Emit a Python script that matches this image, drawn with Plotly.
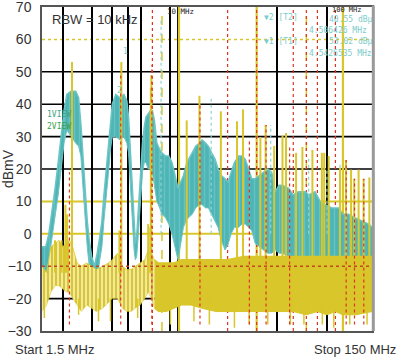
import plotly.graph_objects as go

# ---------------- data ----------------
# Cyan (peak detector) trace: envelope of the noisy trace
cyan_freq = [1.50, 1.58, 1.65, 1.72, 1.80, 1.88, 1.96, 2.04, 2.12, 2.25, 2.40, 2.50, 2.58, 2.66,
             2.74, 2.82, 2.90, 3.00, 3.12, 3.24, 3.36, 3.46, 3.56, 3.66, 3.78, 3.90, 4.00, 4.20,
             4.45, 4.70, 4.90, 5.02, 5.12, 5.22, 5.32, 5.42, 5.52, 5.62, 5.72, 5.82, 5.95, 6.10,
             6.25, 6.40, 6.60, 6.80, 7.00, 7.20, 7.45, 7.75, 8.0, 8.4, 8.8, 9.2, 9.6, 10.0, 10.4,
             10.8, 11.2, 11.6, 12.2, 12.8, 13.5, 14.0, 14.7, 15.3, 16.0, 16.8, 17.5, 18.3, 19.3,
             20.2, 21.0, 22.0, 23.3, 24.5, 25.6, 26.8, 28.0, 29.4, 31.0, 33.0, 35.0, 37.0, 38.9,
             41.0, 43.0, 46.8, 50.0, 53.7, 59.0, 62.0, 67.8, 72.7, 78.0, 85.6, 94.0, 100.0, 108.0,
             118.0, 130.0, 143.0, 150.0]
cyan_upper = [-4, -4, 0, 6, 14, 22, 31, 38, 43, 44, 44, 42, 34, 24,
              13, 4, -2, -7, -10, -6, -1, 4, 12, 19, 27, 34, 40, 43,
              42, 43, 41, 36, 28, 18, 10, 3, -3, -1, 5, 12, 20, 28,
              33, 36, 37, 38, 38, 35, 28, 26, 25, 24, 24, 22, 18, 14, 16,
              18, 21, 23, 25, 27, 28, 29, 28, 27, 25, 23, 20, 18, 17,
              16, 19, 22, 24, 24, 23, 20, 17, 17, 18, 19, 20, 19, 13,
              15, 15, 14, 12, 13, 13, 12, 13, 10, 9, 8, 8, 6, 6,
              5, 4, 3, 2]
cyan_lower = [-12, -13, -8, -2, 5, 12, 20, 28, 32, 30, 28, 27, 24, 14,
              4, -4, -10, -15, -16, -14, -8, -4, 4, 10, 18, 26, 30, 30,
              29, 30, 28, 25, 18, 10, 1, -5, -8, -7, -2, 4, 11, 19,
              22, 22, 20, 20, 19, 15, 10, 8, 6, 5, 3, 0, -4, -8, -3,
              2, 4, 5, 6, 8, 9, 9, 8, 8, 6, 4, 2, -2, -5,
              -3, 0, 2, 2, 3, 3, 2, 1, -3, -4, -5, -6, -6, -5,
              -6, -6, -7, -8, -7, -7, -7, -7, -8, -8, -8, -8, -9, -9,
              -9, -9, -9, -9]

# Yellow (average detector) trace: envelope of the noise band
yel_freq = [1.5, 1.6, 1.7, 1.8, 1.9, 2.0, 2.1, 2.2, 2.3, 2.45, 2.6, 2.8, 3.0, 3.2, 3.5, 3.8,
            4.0, 4.3, 4.6, 4.9, 5.2, 5.5, 5.9, 6.3, 6.6, 6.9, 7.2, 7.6, 8.5, 9.5, 10.5, 12.0,
            14.0, 17.0, 20.0, 25.0, 30.0, 40.0, 50.0, 60.0, 70.0, 80.0, 90.0, 100.0, 120.0, 150.0]
yel_upper = [-10, -12, -4, -3, -2, -4, -3, -2, -4, -9, -10, -9, -10, -11, -10, -9,
             -8, -6, -10, -11, -11, -10, -9, -8, -5, -6, -8, -9, -9, -9, -8, -8,
             -8, -8, -8, -7, -7, -7, -7, -7, -7, -7, -7, -7, -7, -7]
yel_lower = [-24, -22, -18, -16, -16, -17, -18, -18, -20, -22, -24, -22, -23, -24, -23, -21,
             -20, -20, -23, -24, -24, -23, -22, -20, -18, -20, -23, -24, -24, -23, -22, -22,
             -23, -24, -24, -24, -24, -24, -24, -25, -24, -25, -24, -25, -25, -24]
yel_sparse_end = 7.2  # below this frequency the average trace is sparse

# Short yellow strokes above the noise band (frequency MHz, top dBmV)
small_freq = [1.8, 1.97, 2.08, 2.13, 4.42, 6.6, 6.8]
small_top = [-2, -2, 9, 6, 1, 3, 2]

# Yellow strokes below the noise band (frequency MHz, bottom dBmV)
dip_freq = [1.55, 2.5, 3.3, 3.9, 5.7, 9.0, 12.5, 15.5, 22.0, 27.0, 35.0, 48.0, 58.0, 75.0, 88.0, 110.0, 140.0]
dip_bottom = [-26, -25, -27, -27, -26, -28, -27, -28, -29, -28, -28, -28, -28, -28, -29, -28, -28]

# Tall yellow spikes (frequency MHz, peak dBmV)
spike_freq = [2.28, 4.54, 6.85, 6.9, 11.3, 13.5, 18.2, 22.8, 24.8, 31.6, 34.0, 38.3, 43.0, 45.2,
              52.0, 56.8, 65.3, 74.5, 77.0, 82.0, 96.0, 104.3, 112.0, 117.0, 124.4, 133.4, 144.6]
spike_top = [53, 53, 45, 49, 35, 42.6, 37.8, 34.7, 38.4, 29.9, 33.6, 27.1, 30.3, 31.1,
             25, 26.8, 25.9, 25, 25, 24, 20.4, 22.8, 19.8, 17, 19.8, 17, 17.4]

# Red dotted marker strokes (frequency MHz, top dBmV)
red_freq = [2.2, 4.5, 6.95, 13.6, 27.1, 34.2, 47.5, 104.6, 117.5, 133.8]
red_top = [19, 50, 52, 40, 29.2, 33.6, 27, 22.8, 17, 17]

# Cyan dotted strokes (frequency MHz, top dBmV)
cdot_freq = [7.9, 15.9, 36.5, 62.0, 80.0, 96.0]
cdot_top = [66, 42, 33.6, 24, 20, 22]

# Full-height marker lines
red_full = [7, 20, 50, 70, 90]
yel_solid_full = [10.15, 30, 100]
yel_dash_full = [8, 60]
red_on_yellow = [30, 60]

# Axis / grid
y_ticks = [-30, -20, -10, 0, 10, 20, 30, 40, 50, 60, 70]
x_grid = [2, 3, 4, 5, 6, 9, 10, 40, 80, 100]
black_levels = [50, 40, 30, 20, -20]
yellow_solid_levels = [10, 0]
yellow_dot_levels = [60]
red_dot_levels = [-10]

CYAN = "#4db5b5"
YEL = "#d8c62a"
RED = "#e0321e"

fig = go.Figure()


def vlines(freqs, bottoms, tops):
    xs, ys = [], []
    for f, b, t in zip(freqs, bottoms, tops):
        xs += [f, f, None]
        ys += [b, t, None]
    return xs, ys


def add_v(freqs, bottoms, tops, color, width, dash="solid"):
    xs, ys = vlines(freqs, bottoms, tops)
    fig.add_trace(go.Scatter(x=xs, y=ys, mode="lines", line=dict(color=color, width=width, dash=dash),
                             hoverinfo="skip"))


def add_band(f, lo, hi, color, edge, edge_w=1.0, pattern=None):
    fig.add_trace(go.Scatter(x=f, y=lo, mode="lines", line=dict(color=edge, width=edge_w), hoverinfo="skip"))
    kw = dict(fill="tonexty", fillcolor=color)
    if pattern is not None:
        kw["fillpattern"] = pattern
    fig.add_trace(go.Scatter(x=f, y=hi, mode="lines", line=dict(color=edge, width=edge_w * 1.5),
                             hoverinfo="skip", **kw))


# full-height marker lines (under the traces)
add_v(yel_solid_full, [-30] * 3, [70] * 3, YEL, 2.2)
add_v(yel_dash_full, [-30] * 2, [70] * 2, YEL, 1.5, "dash")
add_v(red_full + red_on_yellow, [-30] * 7, [70] * 7, RED, 1.2, "dot")

# horizontal level lines
for lv in black_levels:
    fig.add_shape(type="line", xref="paper", x0=0, x1=1, y0=lv, y1=lv, line=dict(color="black", width=1.6), layer="below")
for lv in yellow_solid_levels:
    fig.add_shape(type="line", xref="paper", x0=0, x1=1, y0=lv, y1=lv, line=dict(color=YEL, width=2), layer="below")
for lv in yellow_dot_levels:
    fig.add_shape(type="line", xref="paper", x0=0, x1=1, y0=lv, y1=lv, line=dict(color=YEL, width=1.5, dash="dot"), layer="below")
for lv in red_dot_levels:
    fig.add_shape(type="line", xref="paper", x0=0, x1=1, y0=lv, y1=lv, line=dict(color="#c04a1e", width=1.5, dash="dot"), layer="above")

# cyan band, with light vertical streak texture
add_band(cyan_freq, cyan_lower, cyan_upper, CYAN, "#6cc4c4",
         pattern=dict(shape="|", bgcolor=CYAN, fgcolor="#86cdcd", size=5, solidity=0.25))

# cyan dotted strokes
add_v(cdot_freq, [0] * len(cdot_freq), cdot_top, "#8fd3d3", 1.2, "dot")

# yellow band: sparse part (streaky) and dense part
n_sparse = sum(1 for f in yel_freq if f <= yel_sparse_end)
add_band(yel_freq[:n_sparse], yel_lower[:n_sparse], yel_upper[:n_sparse], YEL, YEL, edge_w=0.5,
         pattern=dict(shape="|", bgcolor="#ffffff", fgcolor=YEL, fgopacity=1, size=4, solidity=0.7))
add_band(yel_freq[n_sparse - 1:], yel_lower[n_sparse - 1:], yel_upper[n_sparse - 1:], YEL, YEL)

# yellow strokes
add_v(small_freq, [-12] * len(small_freq), small_top, YEL, 2)
add_v(dip_freq, [-20] * len(dip_freq), dip_bottom, YEL, 1.5)
add_v(spike_freq, [-12] * len(spike_freq), spike_top, YEL, 2)

# red dotted strokes
add_v(red_freq, [-28] * len(red_freq), red_top, RED, 1.2, "dot")

TOP, BOT = 5, 331
fig.update_layout(
    width=399, height=359,
    margin=dict(l=42, r=27, t=TOP, b=359 - BOT),
    paper_bgcolor="white", plot_bgcolor="white",
    showlegend=False,
    font=dict(family="Liberation Sans, Arial, sans-serif", color="#333333"),
)
fig.update_xaxes(type="log", range=[0.17609, 2.17609], tickvals=x_grid, showticklabels=False,
                 showgrid=True, gridcolor="black", gridwidth=1.6, zeroline=False,
                 showline=True, linecolor="#555555", linewidth=1.5, mirror=True, ticks="")
fig.update_yaxes(range=[-30, 70], tickvals=y_ticks, showgrid=False, zeroline=False,
                 showline=True, linecolor="#555555", linewidth=1.5, mirror=True,
                 ticks="", ticklabelstandoff=6, ticklabeloverflow="allow",
                 tickfont=dict(size=14, color="#333333"),
                 title=dict(text="dBmV", font=dict(size=14, color="#333333"), standoff=0),
                 automargin=False)


def px(x):
    return (x - 41.7) / 330.0


def py(y):
    return (BOT - y) / float(BOT - TOP)


ann = []
ann.append(dict(text="RBW = 10 kHz", x=px(50), y=py(18), xanchor="left", font=dict(size=13)))
ann.append(dict(text="Start 1.5 MHz", x=px(13), y=py(350), xanchor="left", font=dict(size=13)))
ann.append(dict(text="Stop 150 MHz", x=px(398), y=py(350), xanchor="right", font=dict(size=13)))
mono = "DejaVu Sans Mono, monospace"
lc = "#7ccccc"
for t, x, y in [("\u25bc2 [T2]", 262, 16), ("40.55 dB\u00b5", 327, 18), ("4.506426 MHz", 307, 29),
                ("\u25bc1 [T1]", 262, 40), ("53.02 dB\u00b5", 327, 40), ("4.5426535 MHz", 307, 52)]:
    ann.append(dict(text=t, x=px(x), y=py(y), xanchor="left", font=dict(size=8, color=lc, family=mono)))
ann.append(dict(text="1VIEW", x=px(45), y=py(113), xanchor="left", font=dict(size=8, color="#3f9f7f", family=mono)))
ann.append(dict(text="2VIEW", x=px(45), y=py(125), xanchor="left", font=dict(size=8, color="#3c9e4a", family=mono)))
ann.append(dict(text="10 MHz", x=px(165), y=py(10), xanchor="left", font=dict(size=7.5, color="#222222", family=mono)))
ann.append(dict(text="100 MHz", x=px(330), y=py(8.5), xanchor="left", font=dict(size=7, color="#222222", family=mono)))
ann.append(dict(text="1", x=px(121), y=py(50), font=dict(size=8, color=lc, family=mono)))
ann.append(dict(text="2", x=px(115), y=py(89), font=dict(size=8, color=lc, family=mono)))
for a in ann:
    a.setdefault("xref", "paper")
    a.setdefault("yref", "paper")
    a.setdefault("showarrow", False)
    a.setdefault("yanchor", "middle")
fig.update_layout(annotations=ann)

fig.add_shape(type="line", xref="paper", yref="paper", x0=1.004, x1=1.004, y0=0, y1=1.005,
              line=dict(color="#9a9a9a", width=3))

fig.write_html("out.html", config={"displayModeBar": False},
               post_script="document.body.style.margin='0';")
